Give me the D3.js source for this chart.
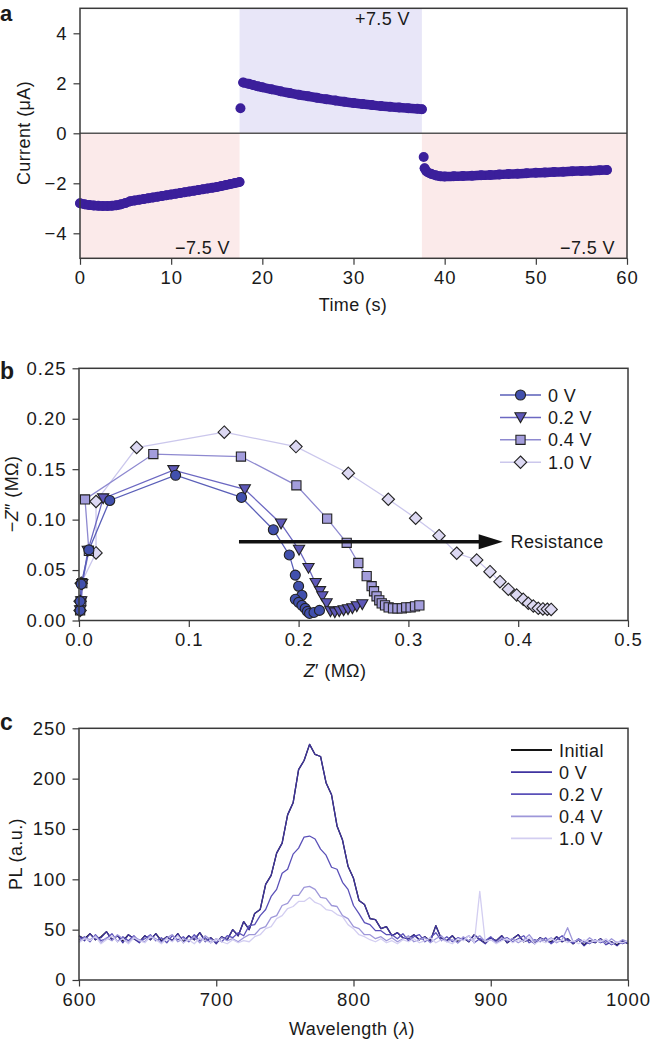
<!DOCTYPE html>
<html><head><meta charset="utf-8">
<script src="https://cdn.jsdelivr.net/npm/d3@7"></script>
<style>
body{margin:0;background:#fff}
svg text{font-family:"Liberation Sans",Arial,Helvetica,sans-serif;fill:#1a1a1a}
</style>
</head><body>
<svg id="chart" width="651" height="1041"></svg>
<script>
// ---------- Panel a data ----------
const aSeg1Time = [0,0.5,1,1.5,2,2.5,3,3.5,4,4.5,5,5.5,6,6.5,7,7.5,8,8.5,9,9.5,10,10.5,11,11.5,12,12.5,13,13.5,14,14.5,15,15.5,16,16.5,17,17.5];
const aSeg1Current = [-2.80,-2.84,-2.87,-2.89,-2.90,-2.91,-2.91,-2.90,-2.88,-2.84,-2.79,-2.72,-2.69,-2.66,-2.63,-2.60,-2.57,-2.54,-2.51,-2.48,-2.45,-2.42,-2.39,-2.36,-2.33,-2.30,-2.27,-2.24,-2.21,-2.18,-2.15,-2.11,-2.07,-2.03,-1.99,-1.95];
const aSeg2Time = [17.9,18.5,19,19.5,20,21,22,23,24,25,26,27,28,29,30,31,32,33,34,35,36,37,37.5];
const aSeg2Current = [2.03,1.98,1.93,1.88,1.84,1.76,1.68,1.61,1.54,1.48,1.42,1.36,1.31,1.26,1.21,1.17,1.13,1.09,1.06,1.03,1.00,0.98,0.96];
const aSeg3Time = [37.8,38,38.5,39,39.5,40,41,42,43,44,45,46,47,48,49,50,51,52,53,54,55,56,57,57.8];
const aSeg3Current = [-1.40,-1.52,-1.62,-1.68,-1.72,-1.73,-1.72,-1.71,-1.70,-1.68,-1.67,-1.65,-1.63,-1.62,-1.60,-1.58,-1.57,-1.55,-1.54,-1.52,-1.51,-1.50,-1.48,-1.47];
const aIsolatedTime = [17.6, 37.7];
const aIsolatedCurrent = [1.0, -0.95];
const aRegions = [[0,17.5,-5,0,"neg"],[17.5,37.5,0,5,"pos"],[37.5,60,-5,0,"neg"]];
const aXTicks = [0,10,20,30,40,50,60];
const aYTicks = [-4,-2,0,2,4];

// ---------- Panel b data ----------
const bSeries = ["0 V","0.2 V","0.4 V","1.0 V"];
const b0Re = [0.001,0.001,0.002,0.009,0.028,0.088,0.148,0.177,0.1915,0.197,0.200,0.203,0.197,0.200,0.203,0.206,0.208,0.210,0.214,0.219];
const b0Im = [0.010,0.019,0.036,0.070,0.119,0.144,0.122,0.090,0.065,0.045,0.034,0.025,0.021,0.018,0.015,0.012,0.009,0.007,0.008,0.010];
const b02Re = [0.001,0.002,0.003,0.008,0.022,0.086,0.151,0.184,0.2004,0.209,0.2155,0.2195,0.2216,0.2255,0.229,0.233,0.237,0.241,0.245,0.249,0.253,0.258];
const b02Im = [0.010,0.019,0.036,0.069,0.121,0.149,0.130,0.096,0.070,0.052,0.037,0.029,0.024,0.017,0.009,0.008,0.009,0.010,0.011,0.012,0.014,0.016];
const b04Re = [0.001,0.002,0.003,0.009,0.0055,0.0677,0.1475,0.198,0.226,0.2438,0.2544,0.262,0.2665,0.2687,0.271,0.2735,0.2757,0.2787,0.282,0.286,0.290,0.294,0.298,0.302,0.306,0.310];
const b04Im = [0.010,0.019,0.037,0.069,0.120,0.165,0.1625,0.134,0.101,0.077,0.057,0.044,0.034,0.029,0.024,0.020,0.017,0.015,0.013,0.012,0.012,0.012,0.013,0.013,0.014,0.015];
const b10Re = [0.001,0.001,0.002,0.0155,0.0155,0.0525,0.1323,0.1976,0.2453,0.2817,0.3066,0.3279,0.344,0.3622,0.3743,0.3834,0.391,0.3986,0.4046,0.4092,0.4138,0.4183,0.4225,0.4265,0.430];
const b10Im = [0.010,0.019,0.037,0.067,0.118,0.1715,0.1867,0.1724,0.146,0.1202,0.1014,0.0841,0.0667,0.060,0.0484,0.0385,0.031,0.0253,0.021,0.0171,0.0144,0.0121,0.0115,0.0112,0.011];
const bXTicks = [0,0.1,0.2,0.3,0.4,0.5];
const bYTicks = [0,0.05,0.10,0.15,0.20,0.25];

// ---------- Panel c data ----------
const cSeries = ["Initial","0 V","0.2 V","0.4 V","1.0 V"];
const cWavelength = [600,604,608,612,616,620,624,628,632,636,640,644,648,652,656,660,664,668,672,676,680,684,688,692,696,700,704,708,712,716,720,724,728,732,736,740,744,748,752,756,760,764,768,772,776,780,784,788,792,796,800,804,808,812,816,820,824,828,832,836,840,844,848,852,856,860,864,868,872,876,880,884,888,892,896,900,904,908,912,916,920,924,928,932,936,940,944,948,952,956,960,964,968,972,976,980,984,988,992,996,1000];
const cInitial = [44,41,46,40,43,48,40,44,39,45, 41,38,44,40,46,39,43,39,46,38, 44,40,47,39,42,37,43,40,50,44, 58,50,66,70,95,104,126,136,164,176, 209,218,234,224,222,196,184,153,139,113, 101,79,75,61,60,51,53,44,47,42, 41,45,40,43,39,54,41,39,44,38, 42,38,45,40,37,42,39,44,37,41, 45,38,40,37,42,39,38,43,38,41, 36,40,35,39,37,41,36,38,35,39, 36];
const c0V = [44,39,46,40,42,48,40,44,37,45, 41,37,44,40,46,38,43,39,46,37, 44,40,47,38,42,36,43,40,50,44, 58,50,66,70,95,104,126,136,164,176, 209,218,234,224,222,196,184,153,139,113, 101,79,75,61,60,51,53,44,47,42, 41,45,40,43,38,54,41,39,44,37, 42,38,45,40,36,42,39,44,37,41, 45,38,40,36,42,39,37,43,38,41, 36,40,34,39,37,41,35,38,34,39, 36];
const c02V = [40,43,38,45,39,41,46,38,43,39, 44,38,41,45,39,42,37,44,40,43, 38,45,39,42,37,41,38,44,42,47, 44,54,55,64,70,83,90,106,110,125, 131,142,143,140,130,124,112,110,97,90, 74,66,57,55,49,49,45,45,41,46, 39,43,45,38,42,47,39,43,38,42, 40,44,37,41,39,43,37,40,42,38, 41,44,37,40,38,42,36,40,44,39, 37,41,38,36,40,37,39,35,38,36, 38];
const c04V = [38,42,40,44,37,42,39,45,41,37, 43,40,38,44,41,37,42,45,38,41, 39,43,37,44,40,38,42,39,41,38, 42,45,45,51,53,62,64,74,76,84, 84,92,93,90,82,81,74,73,64,61, 53,51,45,45,41,43,39,42,38,41, 44,38,40,42,37,41,44,38,40,37, 43,39,41,44,38,40,37,42,39,41, 37,40,45,38,41,39,42,37,40,52, 38,40,37,42,38,40,36,41,37,40, 38];
const c10V = [37,41,39,43,36,40,44,38,41,36, 42,39,37,43,40,36,41,38,44,37, 40,36,42,39,37,41,38,36,40,37, 39,38,43,45,51,53,61,64,71,73, 78,78,82,77,75,70,69,65,63,55, 51,45,43,40,38,41,37,39,36,40, 38,41,37,39,42,37,40,38,36,41, 39,44,37,88,38,40,36,39,41,37, 40,38,42,36,39,37,41,38,40,37, 39,36,40,37,39,38,41,36,38,37, 39];
const cXTicks = [600,700,800,900,1000];
const cYTicks = [0,50,100,150,200,250];

// ---------- Drawing ----------
const svg = d3.select("#chart");
const FRAME = "#3a3a3a";
const TICK_FS = 18.5, LABEL_FS = 18;

function axes(g, x, y, xTicks, yTicks, xMinor, yMinor, xFmt, yFmt) {
  const [x0, x1] = x.range(), [y0, y1] = y.range();
  const gx = g.append("g").attr("transform", `translate(0,${y0})`);
  gx.call(d3.axisBottom(x).tickValues(xMinor).tickSize(3.5).tickFormat(""));
  gx.call(d3.axisBottom(x).tickValues(xTicks).tickSize(6.5).tickPadding(6).tickFormat(xFmt));
  const gy = g.append("g").attr("transform", `translate(${x0},0)`);
  gy.call(d3.axisLeft(y).tickValues(yMinor).tickSize(3.5).tickFormat(""));
  gy.call(d3.axisLeft(y).tickValues(yTicks).tickSize(6.5).tickPadding(6).tickFormat(yFmt));
  g.selectAll(".domain").remove();
  g.selectAll(".tick line").attr("stroke", FRAME).attr("stroke-width", 1.2);
  g.selectAll(".tick text").attr("font-size", TICK_FS).attr("letter-spacing", 1)
    .attr("font-family", "Liberation Sans, Arial, sans-serif").attr("fill", "#1a1a1a");
  g.append("rect").attr("x", x0).attr("y", y1).attr("width", x1 - x0).attr("height", y0 - y1)
    .attr("fill", "none").attr("stroke", FRAME).attr("stroke-width", 1.5);
}
function rangeStep(a, b, s) { const out = []; for (let v = a; v <= b + 1e-9; v += s) out.push(+v.toFixed(6)); return out; }
function label(g, x, y, txt, anchor) {
  return g.append("text").attr("x", x).attr("y", y).attr("text-anchor", anchor || "start")
    .attr("font-size", LABEL_FS).attr("letter-spacing", 0.4).text(txt);
}

// ===== Panel a =====
{
  const g = svg.append("g");
  const x = d3.scaleLinear().domain([0, 60]).range([80, 627]);
  const y = d3.scaleLinear().domain([-5, 5]).range([258.3, 8.3]);
  g.selectAll("rect.reg").data(aRegions).join("rect")
    .attr("x", d => x(d[0])).attr("width", d => x(d[1]) - x(d[0]))
    .attr("y", d => y(d[3])).attr("height", d => y(d[2]) - y(d[3]))
    .attr("fill", d => d[4] === "neg" ? "#fbeaea" : "#e8e6f8");
  g.append("line").attr("x1", x(0)).attr("x2", x(60)).attr("y1", y(0)).attr("y2", y(0))
    .attr("stroke", "#555").attr("stroke-width", 1.5);
  const dot = "#3b1f9b";
  const segs = [[aSeg1Time, aSeg1Current], [aSeg2Time, aSeg2Current], [aSeg3Time, aSeg3Current]];
  const line = d3.line().x(d => x(d[0])).y(d => y(d[1])).curve(d3.curveMonotoneX);
  segs.forEach(([t, c]) => {
    const pts = t.map((v, i) => [v, c[i]]);
    g.append("path").attr("d", line(pts)).attr("fill", "none").attr("stroke", dot)
      .attr("stroke-width", 9.5).attr("stroke-linecap", "round").attr("stroke-linejoin", "round");
    g.selectAll(null).data(pts).join("circle").attr("cx", d => x(d[0])).attr("cy", d => y(d[1]))
      .attr("r", 5).attr("fill", dot);
  });
  g.selectAll(null).data(aIsolatedTime.map((v, i) => [v, aIsolatedCurrent[i]])).join("circle")
    .attr("cx", d => x(d[0])).attr("cy", d => y(d[1])).attr("r", 5).attr("fill", dot);
  axes(g, x, y, aXTicks, aYTicks, rangeStep(0, 60, 2), rangeStep(-4.8, 4.8, 0.4), d3.format("d"), d3.format("d"));
  label(g, 230, 254, "−7.5 V", "end");
  label(g, 410, 25, "+7.5 V", "end");
  label(g, 615, 254, "−7.5 V", "end");
  label(g, 353, 311, "Time (s)", "middle");
  g.append("text").attr("transform", "translate(30,133) rotate(-90)").attr("text-anchor", "middle")
    .attr("font-size", LABEL_FS).attr("letter-spacing", 0.4).text("Current (μA)");
  g.append("text").attr("x", 0).attr("y", 21).attr("font-size", 22).attr("font-weight", "bold").text("a");
}

// ===== Panel b =====
{
  const g = svg.append("g");
  const x = d3.scaleLinear().domain([0, 0.5]).range([79, 628]);
  const y = d3.scaleLinear().domain([0, 0.25]).range([620.5, 368.3]);
  const series = [
    { name: bSeries[0], re: b0Re, im: b0Im, line: "#5a5fb8", fill: "#4150ad", shape: "circle" },
    { name: bSeries[1], re: b02Re, im: b02Im, line: "#6c68c2", fill: "#5e58b8", shape: "tri" },
    { name: bSeries[2], re: b04Re, im: b04Im, line: "#8e89d0", fill: "#a39ddc", shape: "square" },
    { name: bSeries[3], re: b10Re, im: b10Im, line: "#cbc7ec", fill: "#dcd8f2", shape: "diamond" }
  ];
  const shapePath = {
    circle: "M5,0A5,5 0 1,1 -5,0A5,5 0 1,1 5,0Z",
    tri: "M-5.6,-4.6L5.6,-4.6L0,5.2Z",
    square: "M-4.6,-4.6H4.6V4.6H-4.6Z",
    diamond: "M0,-6.2L6.2,0L0,6.2L-6.2,0Z"
  };
  const line = d3.line().x(d => x(d[0])).y(d => y(d[1]));
  const drawOrder = series.slice().reverse();
  drawOrder.forEach(s => {
    g.append("path").attr("d", line(s.re.map((v, i) => [v, s.im[i]]))).attr("fill", "none")
      .attr("stroke", s.line).attr("stroke-width", 1.3);
  });
  drawOrder.forEach(s => {
    g.selectAll(null).data(s.re.map((v, i) => [v, s.im[i]])).join("path")
      .attr("transform", d => `translate(${x(d[0])},${y(d[1])})`)
      .attr("d", shapePath[s.shape]).attr("fill", s.fill).attr("stroke", "#222")
      .attr("stroke-width", 1.1);
  });
  // Resistance arrow
  const ay = y(0.078);
  g.append("line").attr("x1", x(0.1457)).attr("x2", x(0.366)).attr("y1", ay).attr("y2", ay)
    .attr("stroke", "#111").attr("stroke-width", 3.5);
  g.append("path").attr("d", `M${x(0.364)},${ay - 7.5}L${x(0.386)},${ay}L${x(0.364)},${ay + 7.5}Z`).attr("fill", "#111");
  label(g, x(0.393), ay + 6.5, "Resistance");
  axes(g, x, y, bXTicks, bYTicks, rangeStep(0, 0.5, 0.02), rangeStep(0, 0.25, 0.01), d3.format(".1f"), d3.format(".2f"));
  // legend
  series.forEach((s, i) => {
    const ly = 395 + i * 22.4;
    g.append("line").attr("x1", 500).attr("x2", 541).attr("y1", ly).attr("y2", ly).attr("stroke", s.line).attr("stroke-width", 1.5);
    g.append("path").attr("transform", `translate(520.5,${ly})`).attr("d", shapePath[s.shape])
      .attr("fill", s.fill).attr("stroke", "#222").attr("stroke-width", 1.1);
    label(g, 548, ly + 6.5, s.name);
  });
  const xl = label(g, 335, 677, "", "middle");
  xl.append("tspan").attr("font-style", "italic").text("Z");
  xl.append("tspan").text("′ (MΩ)");
  const yl = g.append("text").attr("transform", "translate(18,494) rotate(-90)").attr("text-anchor", "middle").attr("font-size", LABEL_FS).attr("letter-spacing", 0.4);
  yl.append("tspan").text("−");
  yl.append("tspan").attr("font-style", "italic").text("Z");
  yl.append("tspan").text("″ (MΩ)");
  g.append("text").attr("x", 0).attr("y", 379).attr("font-size", 23).attr("font-weight", "bold").text("b");
}

// ===== Panel c =====
{
  const g = svg.append("g");
  const x = d3.scaleLinear().domain([600, 1000]).range([79, 628]);
  const y = d3.scaleLinear().domain([0, 250]).range([980, 728.3]);
  const series = [
    { name: cSeries[0], v: cInitial, color: "#141414" },
    { name: cSeries[1], v: c0V, color: "#3f33a0" },
    { name: cSeries[2], v: c02V, color: "#5a50b8" },
    { name: cSeries[3], v: c04V, color: "#9e97d9" },
    { name: cSeries[4], v: c10V, color: "#d3cef1" }
  ];
  const line = d3.line().x((d, i) => x(cWavelength[i])).y(d => y(d));
  series.forEach(s => {
    g.append("path").attr("d", line(s.v)).attr("fill", "none").attr("stroke", s.color)
      .attr("stroke-width", 1.3).attr("stroke-linejoin", "round");
  });
  axes(g, x, y, cXTicks, cYTicks, rangeStep(600, 1000, 20), rangeStep(0, 250, 10), d3.format("d"), d3.format("d"));
  series.forEach((s, i) => {
    const ly = 750 + i * 22.1;
    g.append("line").attr("x1", 511).attr("x2", 552).attr("y1", ly).attr("y2", ly).attr("stroke", s.color).attr("stroke-width", 1.8);
    label(g, 559, ly + 6.5, s.name);
  });
  const xl = label(g, 352, 1035, "", "middle");
  xl.append("tspan").text("Wavelength (");
  xl.append("tspan").attr("font-style", "italic").text("λ");
  xl.append("tspan").text(")");
  g.append("text").attr("transform", "translate(22,854) rotate(-90)").attr("text-anchor", "middle")
    .attr("font-size", LABEL_FS).attr("letter-spacing", 0.4).text("PL (a.u.)");
  g.append("text").attr("x", 0).attr("y", 730).attr("font-size", 23).attr("font-weight", "bold").text("c");
}
</script>
</body></html>
